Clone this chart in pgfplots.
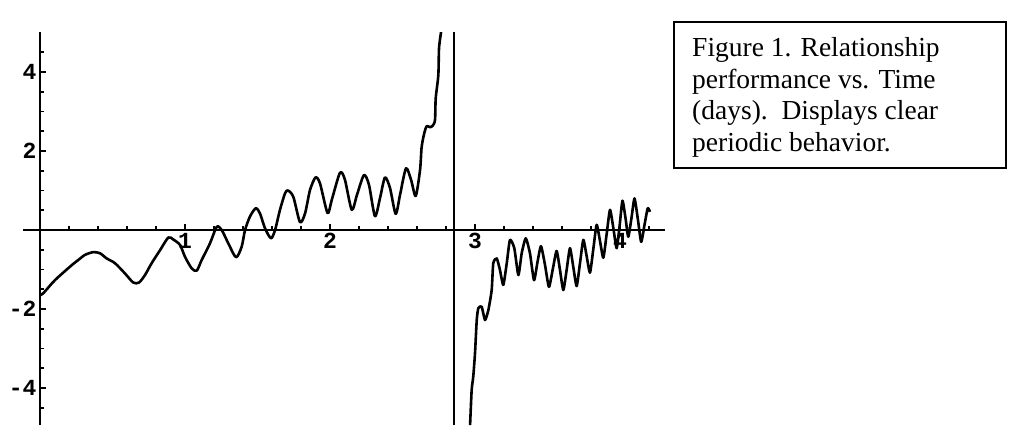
\documentclass[border=0pt]{standalone}
\usepackage{fontspec}
\setmainfont{Liberation Serif}
\setmonofont{Liberation Mono}
\usepackage{pgfplots}
\pgfplotsset{compat=1.18}

\begin{document}
\begin{tikzpicture}
\path[use as bounding box] (0,0) rectangle (1024pt,447pt);
\begin{axis}[
  anchor=origin, at={(40pt,217pt)},
  x=145pt, y=39.5pt,
  xmin=-0.117, xmax=4.31,
  ymin=-4.94, ymax=5.01,
  axis lines=middle,
  axis line style={-, line width=2.2pt},
  xtick={1,2,3,4}, xticklabels={1,2,3,4},
  ytick={-4,-2,2,4}, yticklabels={-4,-2,2,4},
  minor xtick={0.2,0.4,0.6,0.8,1.2,1.4,1.6,1.8,2.2,2.4,2.6,2.8,3.2,3.4,3.6,3.8,4.2},
  minor ytick={-4.5,-3.5,-3,-2.5,-1.5,-1,-0.5,0.5,1,1.5,2.5,3,3.5,4.5},
  tick align=inside,
  major tick length=6pt, minor tick length=4pt,
  every tick/.style={black, line width=1.6pt},
  tick label style={font=\ttfamily\bfseries\fontsize{23}{23}\selectfont},
]
% left branch
\addplot[black, line width=2.6pt, line join=round, mark=none, smooth, tension=0.45] coordinates {
(0.0,-1.65) (0.023,-1.60) (0.103,-1.27) (0.219,-0.89) (0.264,-0.76) (0.310,-0.63)
(0.368,-0.56) (0.414,-0.59) (0.46,-0.72) (0.517,-0.84) (0.586,-1.10) (0.643,-1.33)
(0.683,-1.33) (0.724,-1.14) (0.770,-0.84) (0.828,-0.51) (0.885,-0.19) (0.919,-0.24)
(0.966,-0.38) (1.0,-0.68) (1.046,-0.97) (1.081,-1.03) (1.115,-0.76) (1.172,-0.34)
(1.219,0.08) (1.253,0.0) (1.299,-0.34) (1.352,-0.69) (1.391,-0.42) (1.414,0.0)
(1.448,0.34) (1.488,0.55) (1.517,0.42) (1.552,0.04) (1.593,-0.21) (1.621,0.0)
(1.655,0.51) (1.69,0.93) (1.71,1.0) (1.747,0.84) (1.793,0.20) (1.828,0.42)
(1.862,1.01) (1.9,1.33) (1.931,1.18) (1.983,0.43) (2.012,0.76) (2.069,1.45)
(2.103,1.27) (2.15,0.51) (2.186,0.89) (2.234,1.39) (2.269,1.14) (2.31,0.35)
(2.345,0.81) (2.379,1.33) (2.414,1.06) (2.453,0.41) (2.483,0.89) (2.524,1.56)
(2.559,1.27) (2.591,0.86) (2.621,1.52) (2.632,2.10) (2.65,2.45) (2.667,2.63)
(2.69,2.60) (2.706,2.63) (2.724,2.78) (2.729,3.33) (2.747,3.92) (2.752,4.61)
(2.766,5.01)
};
% jump line
\addplot[black, line width=2.4pt, mark=none] coordinates {(2.855,-4.94) (2.855,5.01)};
% right branch
\addplot[black, line width=2.6pt, line join=round, mark=none, smooth, tension=0.35] coordinates {
(2.966,-4.94) (2.977,-4.05) (2.988,-3.71) (3.0,-3.12) (3.012,-2.28) (3.023,-1.98)
(3.046,-1.94) (3.069,-2.28) (3.092,-2.03) (3.115,-1.52) (3.126,-0.84) (3.15,-0.72)
(3.172,-1.01) (3.195,-1.39) (3.219,-0.84) (3.241,-0.25) (3.271,-0.46) (3.299,-1.14)
(3.322,-0.59) (3.35,-0.21) (3.379,-0.59) (3.407,-1.27) (3.431,-0.81) (3.455,-0.41)
(3.483,-0.89) (3.51,-1.44) (3.538,-0.96) (3.563,-0.53) (3.586,-1.01) (3.609,-1.52)
(3.632,-1.01) (3.655,-0.46) (3.678,-0.94) (3.701,-1.42) (3.724,-0.84) (3.747,-0.25)
(3.77,-0.66) (3.793,-1.08) (3.816,-0.48) (3.839,0.13) (3.862,-0.28) (3.885,-0.70)
(3.908,-0.10) (3.931,0.51) (3.954,0.05) (3.977,-0.46) (3.998,0.13) (4.017,0.74)
(4.038,0.30) (4.057,-0.17) (4.079,0.30) (4.1,0.80) (4.124,0.25) (4.146,-0.30)
(4.169,0.13) (4.191,0.55) (4.207,0.46)
};
\end{axis}
% caption box
\draw[line width=1.8pt] (674pt,278.7pt) rectangle (1006pt,424.7pt);
\begin{scope}[every node/.style={anchor=base west, inner sep=0pt, font=\fontsize{27.5}{31.7}\selectfont}]
\node at (692pt,390.3pt) {Figure 1. Relationship};
\node at (692pt,358.7pt) {performance vs. Time};
\node at (692pt,327pt) {(days).~~Displays clear};
\node at (692pt,295.3pt) {periodic behavior.};
\end{scope}
\end{tikzpicture}
\end{document}
